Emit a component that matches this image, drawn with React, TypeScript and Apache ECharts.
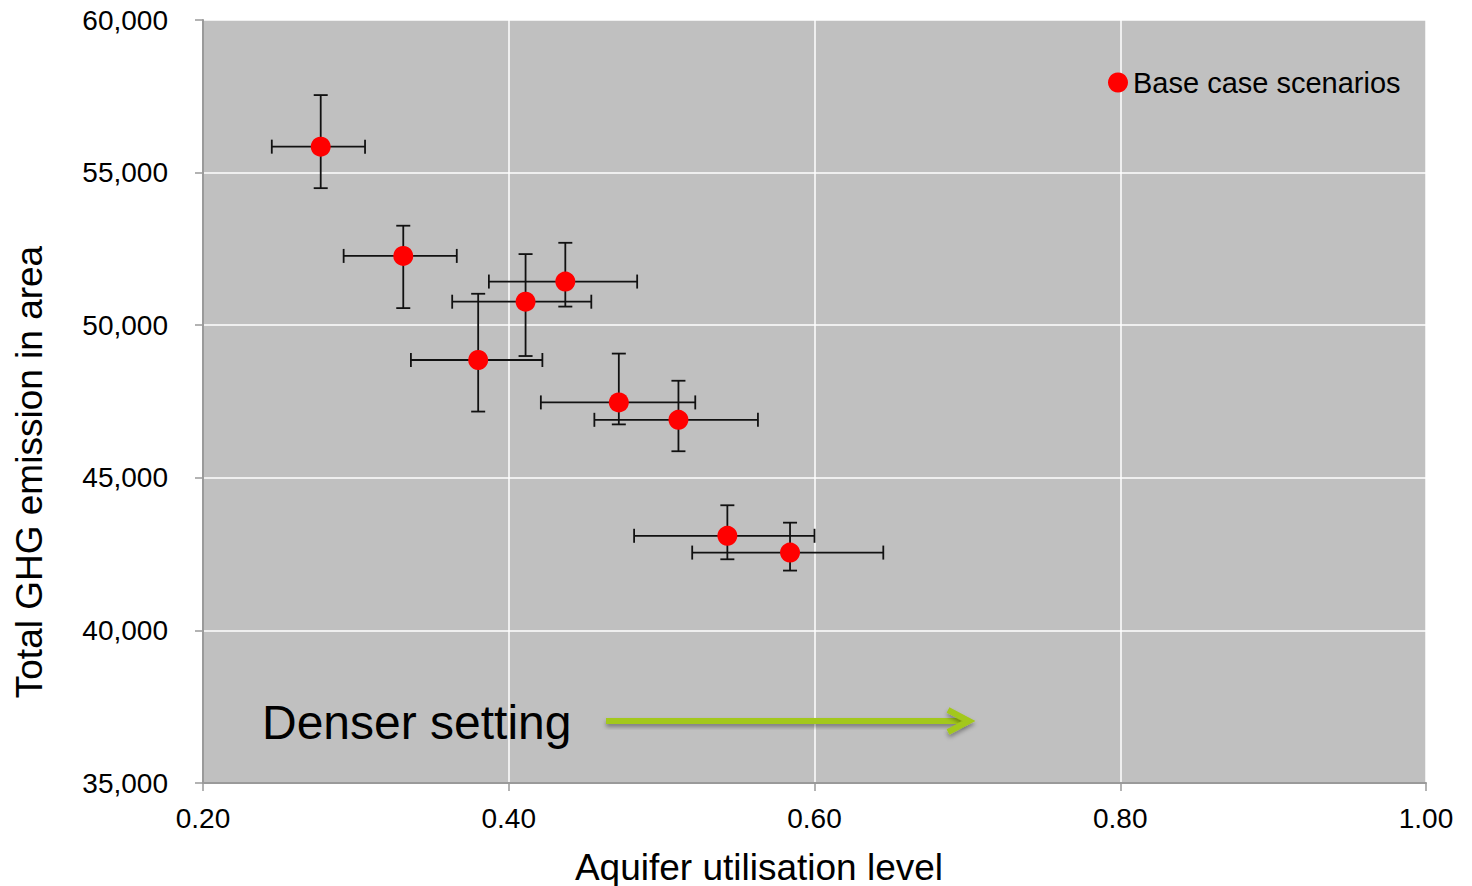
import React, { useEffect, useRef } from "react";
import * as echarts from "echarts";

// Base case scenarios: centre values and error-bar extents
const aquiferUtil = [0.277, 0.331, 0.411, 0.437, 0.380, 0.472, 0.511, 0.543, 0.584];
const ghgEmission = [55850, 52270, 50770, 51430, 48860, 47470, 46900, 43100, 42550];
const utilLow = [0.245, 0.292, 0.363, 0.387, 0.336, 0.421, 0.456, 0.482, 0.520];
const utilHigh = [0.306, 0.366, 0.454, 0.484, 0.422, 0.522, 0.563, 0.600, 0.645];
const ghgLow = [54490, 50560, 48990, 50610, 47170, 46750, 45870, 42330, 41960];
const ghgHigh = [57540, 53260, 52330, 52700, 51030, 49070, 48180, 44100, 43530];

const seriesName = "Base case scenarios";
const xTitle = "Aquifer utilisation level";
const yTitle = "Total GHG emission in area";
const annotation = "Denser setting";

const FONT = "'Liberation Sans', Arial, sans-serif";

export default function App() {
  const ref = useRef<HTMLDivElement>(null);

  useEffect(() => {
    if (!ref.current) return;
    const chart = echarts.init(ref.current, undefined, { renderer: "svg" });

    const points = aquiferUtil.map((x, i) => [x, ghgEmission[i]]);
    const errData = aquiferUtil.map((x, i) => [
      x,
      ghgEmission[i],
      utilLow[i],
      utilHigh[i],
      ghgLow[i],
      ghgHigh[i],
    ]);

    const arrowShadow = {
      shadowBlur: 4,
      shadowColor: "rgba(0,0,0,0.35)",
      shadowOffsetY: 3,
    };

    const option: any = {
      animation: false,
      grid: {
        left: 203,
        right: 46,
        top: 20,
        bottom: 103,
        show: true,
        backgroundColor: "#C0C0C0",
        borderWidth: 0,
      },
      legend: {
        data: [seriesName],
        left: 1108,
        top: 68,
        padding: 0,
        itemWidth: 20,
        itemHeight: 20,
        icon: "circle",
        textStyle: { fontSize: 29, color: "#000", fontFamily: FONT },
      },
      xAxis: {
        type: "value",
        min: 0.2,
        max: 1.0,
        interval: 0.2,
        axisLine: { show: true, lineStyle: { color: "#9a9a9a", width: 2 } },
        axisTick: { show: true, length: 8, lineStyle: { color: "#9a9a9a", width: 1.5 } },
        axisLabel: {
          fontSize: 28,
          color: "#000",
          fontFamily: FONT,
          margin: 21,
          formatter: (v: number) => v.toFixed(2),
        },
        splitLine: { show: true, lineStyle: { color: "#ffffff", width: 1.5 } },
      },
      yAxis: {
        type: "value",
        min: 35000,
        max: 60000,
        interval: 5000,
        axisLine: { show: true, lineStyle: { color: "#9a9a9a", width: 2 } },
        axisTick: { show: true, length: 8, lineStyle: { color: "#9a9a9a", width: 1.5 } },
        axisLabel: {
          fontSize: 28,
          color: "#000",
          fontFamily: FONT,
          margin: 35,
          formatter: (v: number) => v.toLocaleString("en-US"),
        },
        splitLine: { show: true, lineStyle: { color: "#ffffff", width: 1.5 } },
      },
      series: [
        {
          type: "custom",
          name: "errorbars",
          data: errData,
          encode: { x: [0, 2, 3], y: [1, 4, 5] },
          z: 2,
          silent: true,
          renderItem: (_params: any, api: any) => {
            const x = api.value(0);
            const y = api.value(1);
            const pl = api.coord([api.value(2), y]);
            const ph = api.coord([api.value(3), y]);
            const vl = api.coord([x, api.value(4)]);
            const vh = api.coord([x, api.value(5)]);
            const cap = 7;
            const style = { stroke: "#111", lineWidth: 1.8 };
            return {
              type: "group",
              children: [
                { type: "line", shape: { x1: pl[0], y1: pl[1], x2: ph[0], y2: ph[1] }, style },
                { type: "line", shape: { x1: vl[0], y1: vl[1], x2: vh[0], y2: vh[1] }, style },
                { type: "line", shape: { x1: pl[0], y1: pl[1] - cap, x2: pl[0], y2: pl[1] + cap }, style },
                { type: "line", shape: { x1: ph[0], y1: ph[1] - cap, x2: ph[0], y2: ph[1] + cap }, style },
                { type: "line", shape: { x1: vl[0] - cap, y1: vl[1], x2: vl[0] + cap, y2: vl[1] }, style },
                { type: "line", shape: { x1: vh[0] - cap, y1: vh[1], x2: vh[0] + cap, y2: vh[1] }, style },
              ],
            };
          },
        },
        {
          type: "scatter",
          name: seriesName,
          data: points,
          symbol: "circle",
          symbolSize: 20,
          z: 5,
          itemStyle: { color: "#FF0000", opacity: 1 },
        },
      ],
      graphic: [
        {
          type: "text",
          x: 759,
          y: 867,
          style: {
            text: xTitle,
            fontSize: 37,
            fontFamily: FONT,
            fill: "#000",
            align: "center",
            verticalAlign: "middle",
          },
        },
        {
          type: "text",
          x: 29,
          y: 472,
          rotation: Math.PI / 2,
          style: {
            text: yTitle,
            fontSize: 37,
            fontFamily: FONT,
            fill: "#000",
            align: "center",
            verticalAlign: "middle",
          },
        },
        {
          type: "text",
          x: 262,
          y: 722,
          z: 10,
          style: {
            text: annotation,
            fontSize: 48,
            fontFamily: FONT,
            fill: "#000",
            align: "left",
            verticalAlign: "middle",
          },
        },
        {
          type: "rect",
          z: 10,
          shape: { x: 606, y: 718, width: 358, height: 6 },
          style: { fill: "#A3C81C", ...arrowShadow },
        },
        {
          type: "polyline",
          z: 10,
          shape: { points: [[948, 710], [969, 721], [948, 732]] },
          style: {
            stroke: "#A3C81C",
            lineWidth: 6,
            fill: "none",
            lineJoin: "miter",
            ...arrowShadow,
          },
        },
      ],
    };

    chart.setOption(option);
    return () => chart.dispose();
  }, []);

  return (
    <div
      ref={ref}
      style={{ position: "absolute", left: 0, top: 0, width: 1472, height: 886 }}
    />
  );
}
